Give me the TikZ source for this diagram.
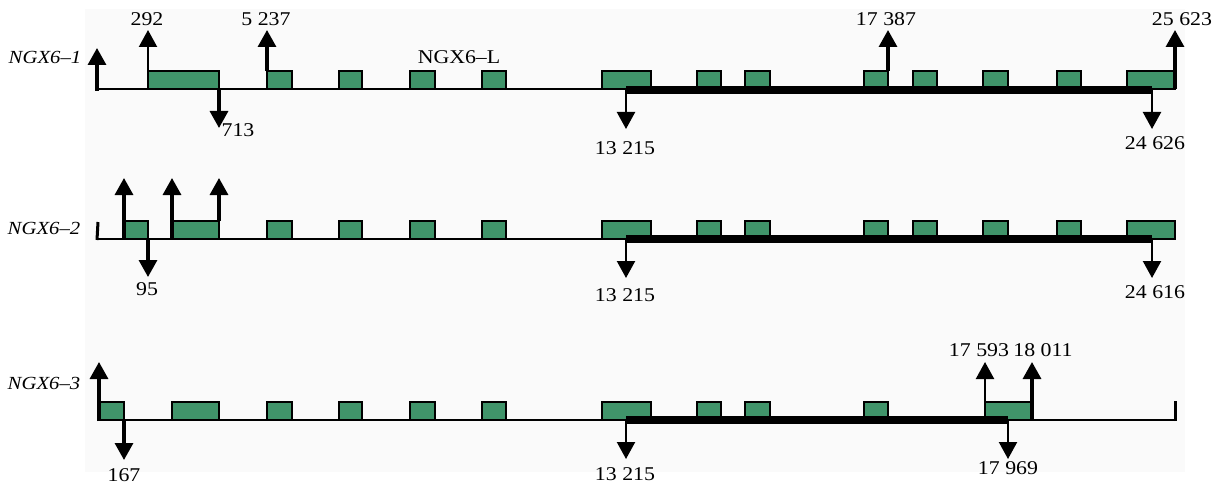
\documentclass[tikz,border=0pt]{standalone}
\usepackage{fontspec}
\setmainfont[FakeStretch=1.12]{Liberation Serif}
\usetikzlibrary{arrows.meta}
\definecolor{exongreen}{RGB}{64,148,106}
\definecolor{panel}{RGB}{250,250,250}
\tikzset{
  gene/.style={line width=1.8pt, black},
  exonbox/.style={draw=black, line width=2.4pt, fill=exongreen},
  orf/.style={line width=8pt, black},
  site/.style={line width=3.2pt, -{Triangle[width=18pt,length=17pt]}},
  thinsite/.style={line width=2.2pt, -{Triangle[width=18pt,length=17pt]}},
  num/.style={font=\fontsize{19.5}{21}\selectfont, inner sep=0pt},
  tag/.style={font=\fontsize{18.5}{20}\selectfont\itshape, inner sep=0pt},
}
% one exon on a gene line: left x, right x, line y
\newcommand\exonat[3]{\draw[exonbox] (#1,#3-18) rectangle (#2,#3);}
\begin{document}
\begin{tikzpicture}[x=1pt,y=-1pt]
\useasboundingbox (0,0) rectangle (1220,484);
\fill[white] (0,0) rectangle (1220,484);
\fill[panel] (85,9) rectangle (1185,472);

% ---------------- NGX6-1 ----------------
\node[tag] (t1) at (45,57) {NGX6–1};
\draw[gene] (98,89) -- (1176,89);
\foreach \a/\b in {148/219,267/292,339/362,410/435,482/506,602/651,
                   697/721,745/770,864/888,913/937,983/1008,1057/1081,1127/1175}
  {\exonat{\a}{\b}{89}}
\draw[orf] (626,90) -- (1152,90);
\draw[site] (97,91) -- (97,48);
\draw[thinsite] (148,89) -- (148,30);
\node[num] (a292) at (147,19) {292};
\draw[site] (219,89) -- (219,128);
\node[num] (a713) at (238,130) {713};
\draw[site] (267,71) -- (267,30);
\node[num] (a5237) at (266,19) {5 237};
\node[num] (ngxl) at (459,57) {NGX6–L};
\draw[site] (888,71) -- (888,30);
\node[num] (a17387) at (886,19) {17 387};
\draw[site] (1175,89) -- (1175,30);
\node[num] (a25623) at (1182,19) {25 623};
\draw[thinsite] (626,90) -- (626,129);
\node[num] (a13215a) at (625,148) {13 215};
\draw[thinsite] (1152,90) -- (1152,129);
\node[num] (a24626) at (1155,143) {24 626};

% ---------------- NGX6-2 ----------------
\node[tag] (t2) at (44,228) {NGX6–2};
\draw[gene] (98,239) -- (1176,239);
\draw[line width=3pt] (97,240) -- (98,222);
\foreach \a/\b in {124/148,172/219,267/292,339/362,410/435,482/506,602/651,
                   697/721,745/770,864/888,913/937,983/1008,1057/1081,1127/1175}
  {\exonat{\a}{\b}{239}}
\draw[orf] (626,239) -- (1152,239);
\draw[site] (124,239) -- (124,178);
\draw[site] (172,239) -- (172,178);
\draw[site] (219,221) -- (219,178);
\draw[site] (148,239) -- (148,277);
\node[num] (a95) at (147,289) {95};
\draw[thinsite] (626,239) -- (626,278);
\node[num] (a13215b) at (625,295) {13 215};
\draw[thinsite] (1152,239) -- (1152,278);
\node[num] (a24616) at (1155,292) {24 616};

% ---------------- NGX6-3 ----------------
\node[tag] (t3) at (44,383) {NGX6–3};
\draw[gene] (99,420) -- (1176,420);
\draw[line width=3pt] (1175,421) -- (1175,401);
\foreach \a/\b in {100/124,172/219,267/292,339/362,410/435,482/506,602/651,
                   697/721,745/770,864/888,985/1032}
  {\exonat{\a}{\b}{420}}
\draw[orf] (626,420) -- (1008,420);
\draw[site] (99,421) -- (99,362);
\draw[site] (124,420) -- (124,460);
\node[num] (a167) at (124,475) {167};
\draw[thinsite] (985,402) -- (985,362);
\node[num] (a17593) at (979,350) {17 593};
\draw[site] (1032,420) -- (1032,362);
\node[num] (a18011) at (1043,350) {18 011};
\draw[thinsite] (1008,420) -- (1008,459);
\node[num] (a17969) at (1008,468) {17 969};
\draw[thinsite] (626,420) -- (626,459);
\node[num] (a13215c) at (625,474) {13 215};
\end{tikzpicture}
\end{document}
